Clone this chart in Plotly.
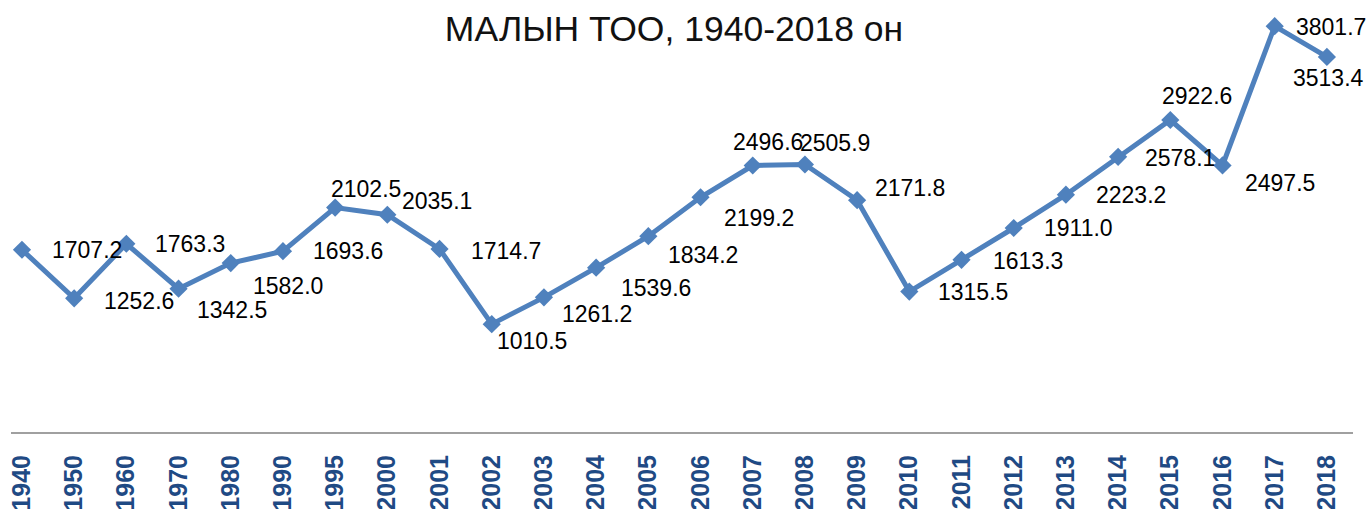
import plotly.graph_objects as go

years = ["1940", "1950", "1960", "1970", "1980", "1990", "1995", "2000", "2001", "2002",
         "2003", "2004", "2005", "2006", "2007", "2008", "2009", "2010", "2011", "2012",
         "2013", "2014", "2015", "2016", "2017", "2018"]
values = [1707.2, 1252.6, 1763.3, 1342.5, 1582.0, 1693.6, 2102.5, 2035.1, 1714.7, 1010.5,
          1261.2, 1539.6, 1834.2, 2199.2, 2496.6, 2505.9, 2171.8, 1315.5, 1613.3, 1911.0,
          2223.2, 2578.1, 2922.6, 2497.5, 3801.7, 3513.4]
labels = [f"{v:.1f}" for v in values]

# label offsets in pixels (dx right, dy down)
label_dx = [65, 65, 64, 53, 57, 65, 31, 50, 66, 40, 53, 60, 55, 58, 15, 30, 53, 64, 66, 65, 65, 62, 27, 57, 56, 2]
label_dy = [0, 3, 0, 21, 23, 0, -19, -14, 2, 17, 17, 20, 19, 21, -23, -22, -12, 0, 1, 0, 0, 1, -24, 18, 1, 21]

fig = go.Figure()
fig.add_trace(go.Scatter(
    x=years, y=values, mode="lines+markers",
    line=dict(color="#4F81BD", width=5),
    marker=dict(symbol="diamond", size=14, color="#4F81BD"),
    hoverinfo="skip", showlegend=False,
))

for i, (v, t, dx, dy) in enumerate(zip(values, labels, label_dx, label_dy)):
    fig.add_annotation(x=i, y=v, xref="x", yref="y", text=t, showarrow=False,
                       xshift=dx, yshift=-dy,
                       font=dict(family="Liberation Sans, Arial", size=23, color="#000000"))

fig.update_layout(
    width=1370, height=509,
    margin=dict(l=11, r=17, t=5, b=77),
    paper_bgcolor="white", plot_bgcolor="white",
    title=dict(text="МАЛЫН ТОО, 1940-2018 он", xref="container", yref="container",
               x=674 / 1370, xanchor="center", y=1 - 29 / 509, yanchor="middle",
               font=dict(family="Liberation Sans, Arial", size=35.5, color="#111111")),
    xaxis=dict(type="category", range=[-0.21, 25.5], showgrid=False, zeroline=False,
               showline=True, linecolor="#A0A0A0", linewidth=2, automargin=False,
               ticks="", tickangle=-90, ticklabelstandoff=11,
               tickfont=dict(family="Liberation Sans, Arial", size=25, color="#1F4A84",
                             weight="bold")),
    yaxis=dict(range=[0, 4000], visible=False, automargin=False),
)

fig.write_html("out.html", config={"displayModeBar": False},
               post_script="document.body.style.margin='0';")
